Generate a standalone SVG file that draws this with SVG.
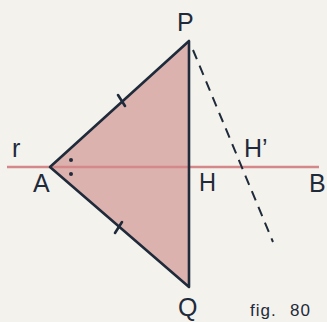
<svg xmlns="http://www.w3.org/2000/svg" width="327" height="322" viewBox="0 0 327 322">
<style>
.lbl{font-family:"Liberation Sans",Arial,sans-serif;font-size:25px;fill:#1f2a3a}
.edge{stroke:#1f2a3a;stroke-width:2.6;fill:none;stroke-linecap:round;stroke-linejoin:round}
</style>
<rect width="327" height="322" fill="#f3f2ec"/>
<g id="triangle">
<polygon points="189,41 50,167 189,287" fill="#dcb2ae"/>
</g>
<g id="line-r">
<line x1="7" y1="167" x2="319" y2="167" stroke="#d4888a" stroke-width="2.4"/>
</g>
<g id="connectors">
<polyline class="edge" points="189,287 50,167 189,41 189,287"/>
<line x1="193" y1="50" x2="273" y2="242" stroke="#1f2a3a" stroke-width="2" stroke-dasharray="10,7"/>
<line x1="118" y1="95" x2="125" y2="106" class="edge" stroke-width="2"/>
<line x1="115" y1="233" x2="122" y2="222" class="edge" stroke-width="2"/>
<circle cx="71" cy="160" r="2" fill="#1f2a3a"/>
<circle cx="71" cy="174" r="2" fill="#1f2a3a"/>
</g>
<g id="labels">
<text class="lbl" x="177" y="31">P</text>
<text class="lbl" x="12" y="157">r</text>
<text class="lbl" x="33" y="192">A</text>
<text class="lbl" x="199" y="191" textLength="17" lengthAdjust="spacingAndGlyphs">H</text>
<text class="lbl" x="309" y="192">B</text>
<text class="lbl" x="244" y="157">H’</text>
<text class="lbl" x="178" y="316">Q</text>
<text class="lbl" x="250" y="316" style="font-size:17px;letter-spacing:1px">fig. <tspan x="290">80</tspan></text>
</g>
</svg>
